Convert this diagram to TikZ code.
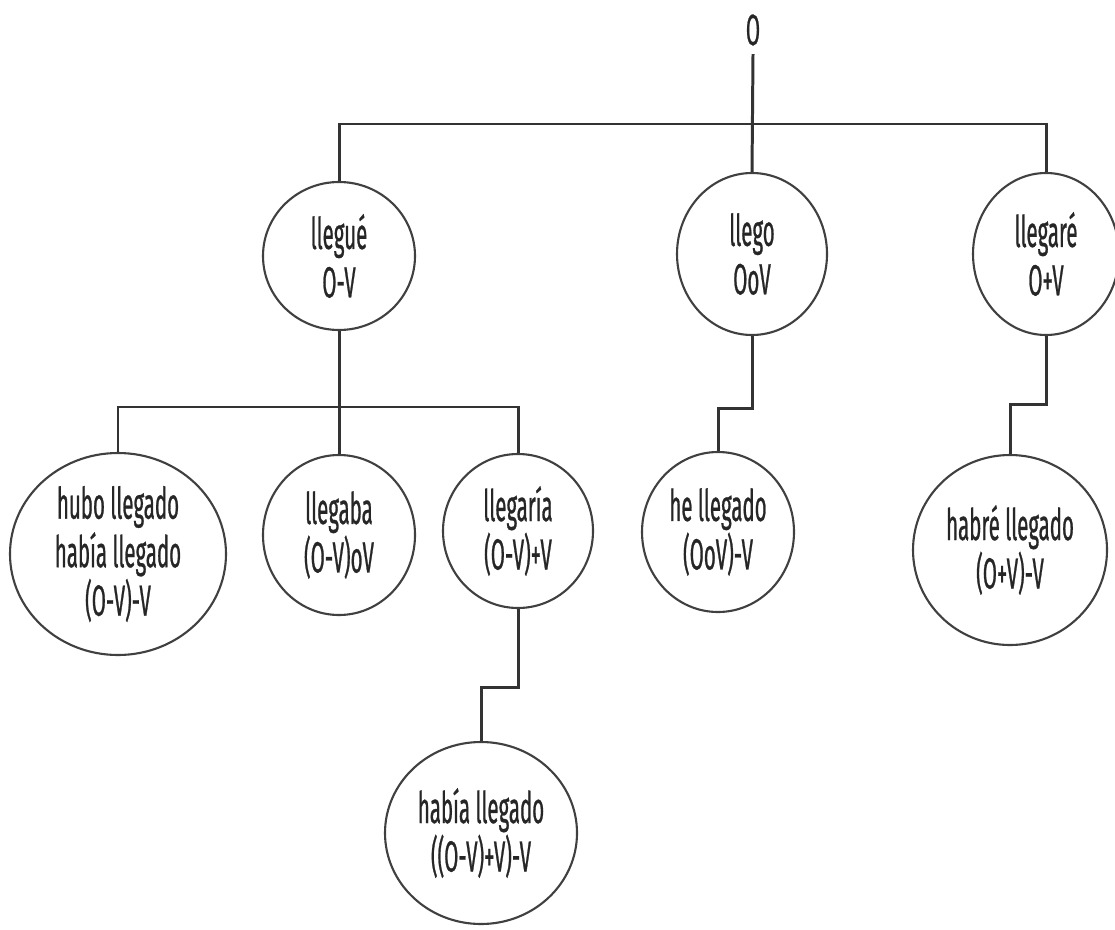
\documentclass[tikz,border=0pt]{standalone}
\usepackage{fontspec}
\setmainfont{Fira Sans}[FakeStretch=0.47, FakeBold=0.6]
\usepackage{tikz}
\usetikzlibrary{shapes.geometric}
\tikzset{
every picture/.style={line width=0.85pt},
%%%%%%%%%%  Node styles
tense/.style={ellipse, draw=black!75, line width=0.6pt, inner sep=0pt,
              align=center, text=black!85,
              font=\fontsize{12.4}{13.8}\selectfont},
origin/.style={text=black!85, inner sep=2pt,
               font=\fontsize{12.4}{13.8}\selectfont},
%%%% connector lines
branch/.style={draw=black!80}
}
\begin{document}
\begin{tikzpicture}
\useasboundingbox (0,0) rectangle (11.15,9.29);
\node[origin] (root) at (7.53,8.99) {O};
%% first level
\node[tense, minimum width=1.52cm, minimum height=1.48cm] (llegue) at (3.39,6.73) {llegué\\O-V};
\node[tense, minimum width=1.50cm, minimum height=1.62cm] (llego) at (7.52,6.75) {llego\\OoV};
\node[tense, minimum width=1.46cm, minimum height=1.62cm] (llegare) at (10.46,6.75) {llegaré\\O+V};
%% second level
\node[tense, minimum width=2.16cm, minimum height=2.02cm] (hubo) at (1.18,3.75) {hubo llegado\\había llegado\\(O-V)-V};
\node[tense, minimum width=1.52cm, minimum height=1.60cm] (llegaba) at (3.39,3.94) {llegaba\\(O-V)oV};
\node[tense, minimum width=1.50cm, minimum height=1.54cm] (llegaria) at (5.18,3.98) {llegaría\\(O-V)+V};
\node[tense, minimum width=1.52cm, minimum height=1.60cm] (hellegado) at (7.18,3.97) {he llegado\\(OoV)-V};
\node[tense, minimum width=1.94cm, minimum height=1.90cm] (habre) at (10.10,3.79) {habré llegado\\(O+V)-V};
%% third level
\node[tense, minimum width=1.92cm, minimum height=1.82cm] (habia) at (4.81,0.96) {había llegado\\((O-V)+V)-V};

\coordinate (bar1) at (7.52,8.05);
\coordinate (bar2) at (3.39,5.22);

\draw[branch] (root.south) -- (llego.north);
\draw[branch] (llegue.north) |- (bar1) -| (llegare.north);
\draw[branch] (llegue.south) -- (llegaba.north);
\draw[branch] (hubo.north) |- (bar2) -| (llegaria.north);
\draw[branch] (llego.south) -- ++(0,-0.72) -| (hellegado.north);
\draw[branch] (llegare.south) -- ++(0,-0.68) -| (habre.north);
\draw[branch] (llegaria.south) -- ++(0,-0.78) -| (habia.north);
\end{tikzpicture}
\end{document}
